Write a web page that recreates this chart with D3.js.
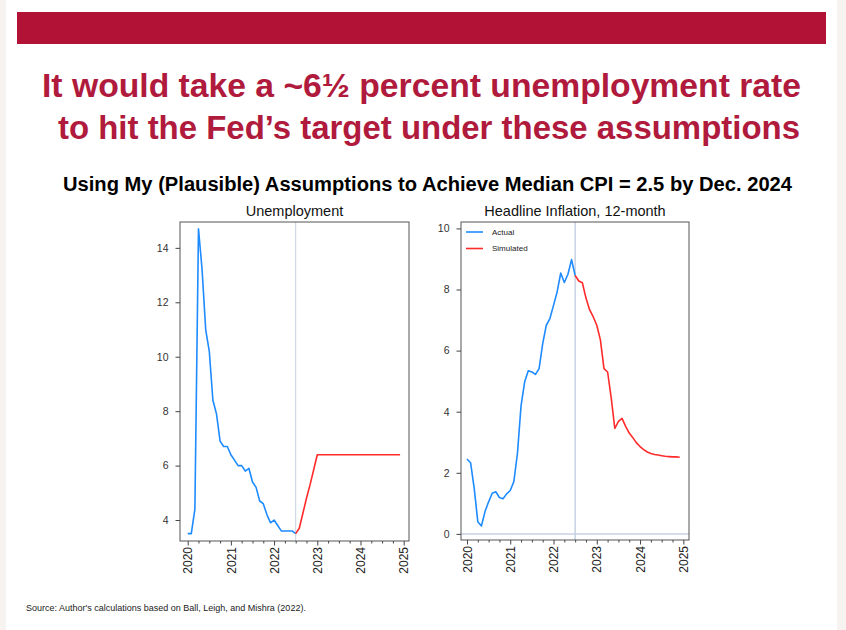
<!DOCTYPE html>
<html>
<head>
<meta charset="utf-8">
<script src="https://cdn.jsdelivr.net/npm/d3@7"></script>
<style>
    body { margin: 0; background: #fff; }
    svg { display: block; font-family: "Liberation Sans", Arial, sans-serif; }
</style>
</head>
<body>
<svg width="846" height="630"></svg>
<script>
// monthly values, Jan 2020 .. Jul 2022 (actual) and Jul 2022 .. Dec 2024 (simulated)
var unempActual = [3.5, 3.5, 4.4, 14.7, 13.2, 11.0, 10.2, 8.4, 7.9, 6.9, 6.7, 6.7,
    6.4, 6.2, 6.0, 6.0, 5.8, 5.9, 5.4, 5.2, 4.7, 4.6, 4.2, 3.9,
    4.0, 3.8, 3.6, 3.6, 3.6, 3.6, 3.5];
var unempSim = [3.5, 3.7, 4.25, 4.8, 5.3, 5.85, 6.4, 6.4, 6.4, 6.4, 6.4, 6.4,
    6.4, 6.4, 6.4, 6.4, 6.4, 6.4, 6.4, 6.4, 6.4, 6.4, 6.4, 6.4,
    6.4, 6.4, 6.4, 6.4, 6.4, 6.4];
var inflActual = [2.45, 2.33, 1.5, 0.4, 0.26, 0.73, 1.05, 1.33, 1.38, 1.19, 1.15, 1.31,
    1.42, 1.71, 2.64, 4.2, 4.98, 5.34, 5.3, 5.22, 5.41, 6.23, 6.83, 7.05,
    7.48, 7.92, 8.54, 8.23, 8.5, 8.98, 8.46];
var inflSim = [8.46, 8.28, 8.22, 7.72, 7.34, 7.11, 6.83, 6.35, 5.41, 5.3, 4.45, 3.45,
    3.68, 3.78, 3.52, 3.3, 3.15, 2.98, 2.86, 2.76, 2.68, 2.63, 2.6, 2.58,
    2.56, 2.54, 2.53, 2.52, 2.52, 2.51];
var simStart = 30; // month index of Jul 2022

var years = [2020, 2021, 2022, 2023, 2024, 2025];
var unempTicks = [4, 6, 8, 10, 12, 14];
var inflTicks = [0, 2, 4, 6, 8, 10];
var seriesNames = ["Actual", "Simulated"];

var titleLines = ["It would take a ~6\u00bd percent unemployment rate",
    "to hit the Fed\u2019s target under these assumptions"];
var subTitle = "Using My (Plausible) Assumptions to Achieve Median CPI = 2.5 by Dec. 2024";
var source = "Source: Author's calculations based on Ball, Leigh, and Mishra (2022).";

var blue = "#1e8bff", red = "#ff2b2b", refCol = "#c6d2e2", crimson = "#b11235";

var svg = d3.select("svg");

// slide background
svg.append("rect").attr("width", 846).attr("height", 630).attr("fill", "#f6f3f0");
svg.append("rect").attr("x", 6).attr("width", 831).attr("height", 630).attr("fill", "#fff");
svg.append("rect").attr("x", 17).attr("y", 12).attr("width", 809).attr("height", 32).attr("fill", crimson);

// the slide font is a bit wider than Liberation, so stretch to the slide widths
var titleFit = [[42, 759], [58, 742]];
svg.selectAll("text.title")
    .data(titleLines)
    .enter()
    .append("text")
    .attr("class", "title")
    .attr("x", (d, i) => titleFit[i][0]).attr("y", (d, i) => 97 + i * 42)
    .attr("textLength", (d, i) => titleFit[i][1])
    .attr("lengthAdjust", "spacingAndGlyphs")
    .attr("font-size", 33.5).attr("font-weight", "bold")
    .attr("fill", "#b01a3c")
    .text(d => d);

svg.append("text")
    .attr("x", 63).attr("y", 191)
    .attr("textLength", 729).attr("lengthAdjust", "spacingAndGlyphs")
    .attr("font-size", 19.5).attr("font-weight", "bold")
    .attr("fill", "#000")
    .text(subTitle);

svg.append("text")
    .attr("x", 26).attr("y", 611)
    .attr("font-size", 9)
    .attr("fill", "#222")
    .text(source);

function toPoints(values, start) {
    return values.map((v, i) => ({ t: 2020 + (start + i) / 12, v: v }));
}

function drawPanel(p) {
    var scX = d3.scaleLinear().domain(p.xDom).range([p.x0, p.x1]);
    var scY = d3.scaleLinear().domain(p.yDom).range([p.y1, p.y0]);
    var g = svg.append("g");

    g.append("text")
        .attr("x", (p.x0 + p.x1) / 2).attr("y", 216)
        .attr("text-anchor", "middle")
        .attr("font-size", 14.5).attr("fill", "#111")
        .text(p.title);

    // reference lines
    g.append("line")
        .attr("x1", scX(2020 + simStart / 12)).attr("x2", scX(2020 + simStart / 12))
        .attr("y1", p.y0).attr("y2", p.y1)
        .attr("stroke", refCol).attr("stroke-width", p.refW);
    if (p.zeroLine) {
        g.append("line")
            .attr("x1", p.x0).attr("x2", p.x1)
            .attr("y1", scY(0)).attr("y2", scY(0))
            .attr("stroke", refCol).attr("stroke-width", 1.5);
    }

    var lineMaker = d3.line().x(d => scX(d.t)).y(d => scY(d.v));
    g.append("path")
        .attr("fill", "none").attr("stroke", blue).attr("stroke-width", 1.6)
        .attr("stroke-linejoin", "round")
        .attr("d", lineMaker(toPoints(p.actual, 0)));
    g.append("path")
        .attr("fill", "none").attr("stroke", red).attr("stroke-width", 1.6)
        .attr("stroke-linejoin", "round")
        .attr("d", lineMaker(toPoints(p.sim, simStart)));

    // frame
    g.append("rect")
        .attr("x", p.x0).attr("y", p.y0)
        .attr("width", p.x1 - p.x0).attr("height", p.y1 - p.y0)
        .attr("fill", "none").attr("stroke", "#555").attr("stroke-width", 1);

    var ay = g.append("g")
        .attr("transform", "translate(" + p.x0 + ",0)")
        .call(d3.axisLeft(scY).tickValues(p.yTicks).tickSize(4.5).tickSizeOuter(0).tickPadding(7));
    ay.select(".domain").remove();
    ay.selectAll("line").attr("stroke", "#444");
    ay.selectAll("text").attr("font-size", 10.5).attr("fill", "#333")
        .attr("font-family", "Liberation Sans, Arial, sans-serif");

    var quarters = d3.range(2020, 2025, 0.25).filter(q => q % 1 != 0);
    var am = g.append("g")
        .attr("transform", "translate(0," + p.y1 + ")")
        .call(d3.axisBottom(scX).tickValues(quarters).tickSize(2.5).tickFormat(""));
    am.select(".domain").remove();
    am.selectAll("line").attr("stroke", "#444");

    var ax = g.append("g")
        .attr("transform", "translate(0," + p.y1 + ")")
        .call(d3.axisBottom(scX).tickValues(years).tickSize(4.5).tickFormat(d3.format("d")));
    ax.select(".domain").remove();
    ax.selectAll("line").attr("stroke", "#444");
    ax.selectAll("text")
        .attr("font-size", 12).attr("fill", "#222")
        .attr("font-family", "Liberation Sans, Arial, sans-serif")
        .attr("text-anchor", "end")
        .attr("transform", "rotate(-90)")
        .attr("x", -6).attr("y", 0).attr("dy", "0.35em");

    if (p.legend) {
        var lg = g.append("g");
        [blue, red].forEach(function (c, i) {
            lg.append("line")
                .attr("x1", p.x0 + 5).attr("x2", p.x0 + 22)
                .attr("y1", 232 + i * 16.5).attr("y2", 232 + i * 16.5)
                .attr("stroke", c).attr("stroke-width", 1.6);
            lg.append("text")
                .attr("x", p.x0 + 31).attr("y", 232 + i * 16.5).attr("dy", "0.35em")
                .attr("font-size", 8).attr("fill", "#222")
                .text(seriesNames[i]);
        });
    }
}

drawPanel({
    title: "Unemployment", x0: 180, x1: 409, y0: 222, y1: 541,
    xDom: [2019.822, 2025.123], yDom: [3.23, 14.95], yTicks: unempTicks,
    actual: unempActual, sim: unempSim, refW: 1, zeroLine: false, legend: false
});
drawPanel({
    title: "Headline Inflation, 12-month", x0: 461, x1: 689, y0: 222, y1: 540,
    xDom: [2019.862, 2025.131], yDom: [-0.2, 10.21], yTicks: inflTicks,
    actual: inflActual, sim: inflSim, refW: 1.5, zeroLine: true, legend: true
});
</script>
</body>
</html>
